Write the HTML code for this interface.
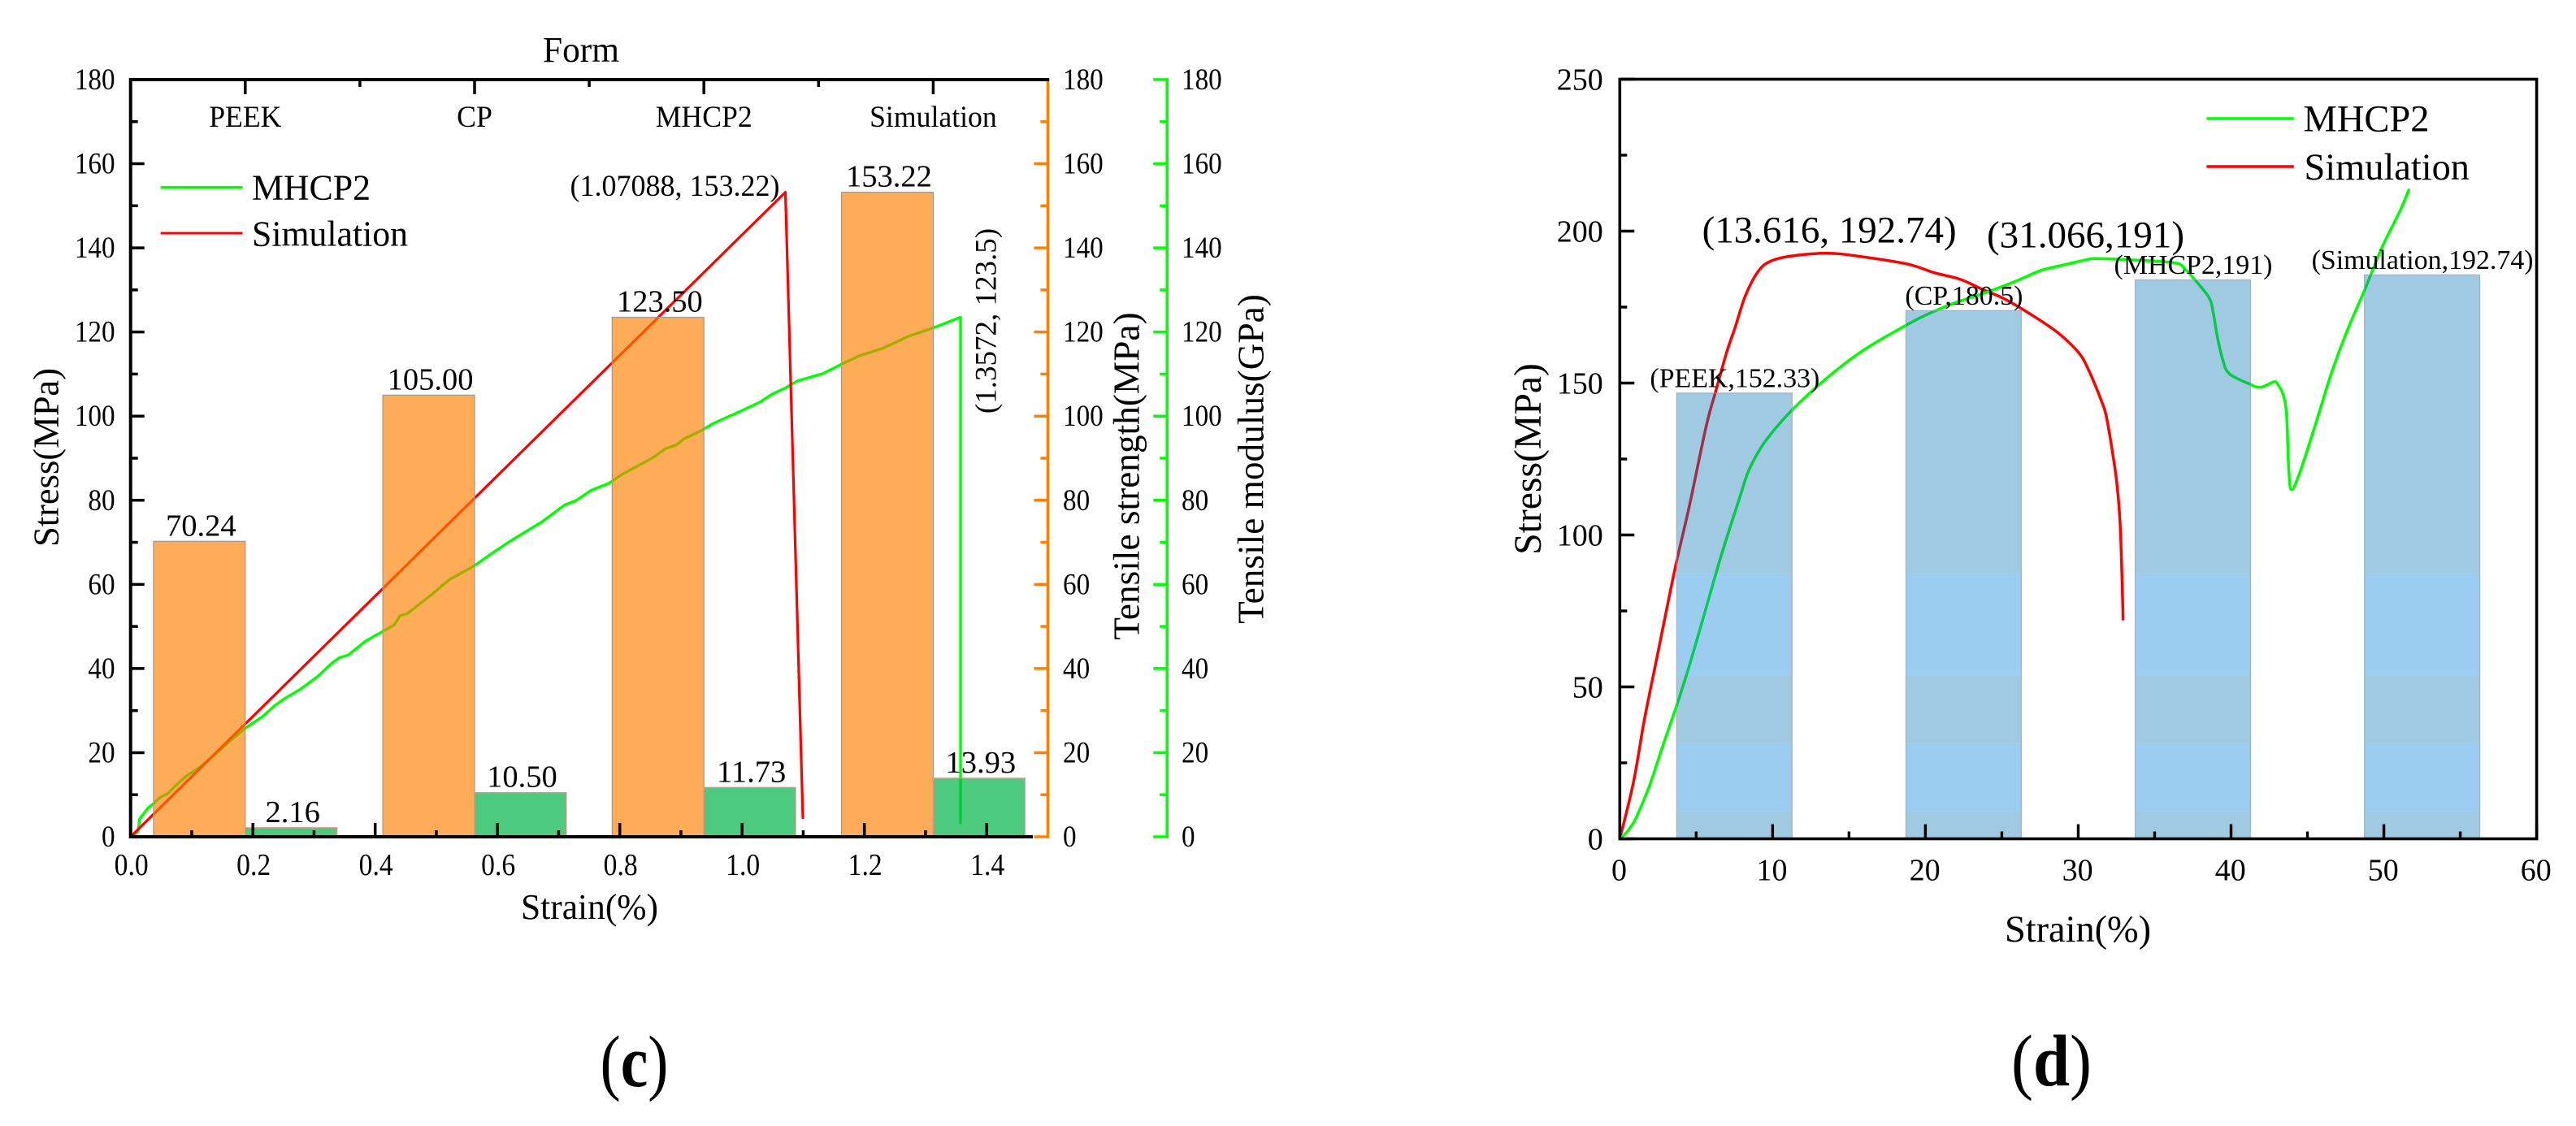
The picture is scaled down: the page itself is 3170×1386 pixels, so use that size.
<!DOCTYPE html>
<html lang="en">
<head>
<meta charset="utf-8">
<title>Stress-strain charts (c) and (d)</title>
<style>
  html, body { margin: 0; padding: 0; background: #fff; width: 3170px; height: 1386px; overflow: hidden; }
  svg { display: block; }
  text { font-family: "Liberation Serif", serif; fill: #000; }
</style>
</head>
<body>
<svg id="figure" width="3170" height="1386" viewBox="0 0 3170 1386">
  <rect x="0" y="0" width="3170" height="1386" fill="#fff"/>

  <g id="chart-c">
    <g id="c-lines"></g>
    <g id="c-bars"></g>
    <g id="c-axes"></g>
    <g id="c-labels"></g>
    <text x="668" y="76" font-size="44" textLength="94" lengthAdjust="spacingAndGlyphs">Form</text>
    <text x="641" y="1131" font-size="44" textLength="169" lengthAdjust="spacingAndGlyphs">Strain(%)</text>
    <text transform="translate(71.5 563) rotate(-90)" text-anchor="middle" font-size="44.5">Stress(MPa)</text>
    <text transform="translate(1401.5 586) rotate(-90)" text-anchor="middle" font-size="45.3">Tensile strength(MPa)</text>
    <text transform="translate(1554.5 565) rotate(-90)" text-anchor="middle" font-size="45.3">Tensile modulus(GPa)</text>
    <text x="701.5" y="241" font-size="37" textLength="258" lengthAdjust="spacingAndGlyphs">(1.07088, 153.22)</text>
    <text transform="translate(1225.5 395) rotate(-90)" text-anchor="middle" font-size="37">(1.3572, 123.5)</text>
    <g>
      <line x1="197.7" x2="298.5" y1="230.8" y2="230.8" stroke="#00ff00" stroke-width="3.5"/>
      <line x1="197.7" x2="298.5" y1="287" y2="287" stroke="#ff0000" stroke-width="3"/>
      <text x="310" y="245.5" font-size="44" textLength="146" lengthAdjust="spacingAndGlyphs">MHCP2</text>
      <text x="310" y="302.7" font-size="44" textLength="192" lengthAdjust="spacingAndGlyphs">Simulation</text>
    </g>
    <text x="738.5" y="1337" font-size="90" textLength="84" lengthAdjust="spacingAndGlyphs">(<tspan font-weight="bold">c</tspan>)</text>
  </g>

  <g id="chart-d">
    <g id="d-lines"></g>
    <g id="d-bars"></g>
    <g id="d-axes"></g>
    <g id="d-labels"></g>
    <text x="2467" y="1159" font-size="46.4" textLength="180" lengthAdjust="spacingAndGlyphs">Strain(%)</text>
    <text transform="translate(1896 565) rotate(-90)" text-anchor="middle" font-size="47.7">Stress(MPa)</text>
    <text x="2094.6" y="298.7" font-size="47" textLength="313" lengthAdjust="spacingAndGlyphs">(13.616, 192.74)</text>
    <text x="2445" y="304.5" font-size="47" textLength="243" lengthAdjust="spacingAndGlyphs">(31.066,191)</text>
    <g>
      <line x1="2715.4" x2="2822.8" y1="146" y2="146" stroke="#00ff00" stroke-width="3.5"/>
      <line x1="2715.4" x2="2822.8" y1="205" y2="205" stroke="#ff0000" stroke-width="3.5"/>
      <text x="2834.5" y="161.6" font-size="46.4" textLength="155" lengthAdjust="spacingAndGlyphs">MHCP2</text>
      <text x="2835.5" y="221" font-size="46.4" textLength="203.5" lengthAdjust="spacingAndGlyphs">Simulation</text>
    </g>
    <text x="2475" y="1336" font-size="90" textLength="99" lengthAdjust="spacingAndGlyphs">(<tspan font-weight="bold">d</tspan>)</text>
  </g>
</svg>

<script>
/* ---------- chart (c) data ---------- */
const cCategories = ['PEEK', 'CP', 'MHCP2', 'Simulation'];
const cStrengthValues = [70.24, 105.00, 123.50, 153.22];
const cModulusValues = [2.16, 10.50, 11.73, 13.93];
const cMhcpStrain = [0, .003, .0124, .0146, .028, .039, .048, .061, .079, .092, .112, .136, .163, .187, .216, .236, .251, .278, .305, .331, .342, .356, .384, .412, .431, .441, .452, .49, .522, .562, .592, .621, .647, .672, .71, .729, .753, .782, .803, .854, .875, .892, .905, .935, .952, .998, 1.03, 1.05, 1.071, 1.091, 1.132, 1.162, 1.193, 1.23, 1.271, 1.315, 1.3572, 1.3572];
const cMhcpStress = [0, .03, 1.3, 4.2, 6.76, 8.05, 9.33, 10.3, 12.9, 14.5, 16.4, 19.3, 22.85, 25.75, 28.6, 31.2, 32.8, 35.1, 38, 41.5, 42.6, 43.2, 46.5, 48.8, 50.3, 52.6, 53, 57.3, 61.2, 64.4, 67.5, 70.3, 72.6, 74.8, 78.9, 79.95, 82.35, 84, 86.1, 90.1, 92.3, 93.1, 94.6, 96.7, 98.2, 101.2, 103.4, 105.3, 106.7, 108.4, 110.1, 112.3, 114.4, 116.1, 118.9, 121.1, 123.5, 3.3];
const cSimStrain = [0, 1.07088, 1.0994];
const cSimStress = [0, 153.22, 4.5];
const cStrainTickLabels = ['0.0', '0.2', '0.4', '0.6', '0.8', '1.0', '1.2', '1.4'];
const cStrainMinorTicks = [.1, .3, .5, .7, .9, 1.1, 1.3];
const cStressTickLabels = ['0', '20', '40', '60', '80', '100', '120', '140', '160', '180'];
const cStressMinorTicks = [10, 30, 50, 70, 90, 110, 130, 150, 170];

/* ---------- chart (d) data ---------- */
const dCategories = ['PEEK', 'CP', 'MHCP2', 'Simulation'];
const dBarValues = [152.33, 180.5, 191, 192.74];
const dMhcpStrain = [0, .36, .75, 1.15, 1.95, 2.84, 3.69, 4.43, 5.32, 6.38, 7.09, 7.89, 8.42, 9.22, 9.93, 11.17, 12.76, 14.54, 16.31, 18.44, 19.87, 21.77, 23.91, 26, 27.59, 29.42, 30.64, 31.066, 32.84, 36.25, 36.99, 37.58, 38.55, 38.82, 39.09, 39.44, 39.88, 41.2, 41.92, 42.81, 43.07, 43.43, 43.64, 43.78, 43.97, 44.53, 45.56, 46.62, 47.68, 48.75, 49.46, 49.99, 51.05, 51.63];
const dMhcpStress = [0, 1.6, 4.2, 7.8, 17.6, 31, 43.4, 55, 70.2, 88.9, 100.5, 113, 121, 128.6, 133.5, 140.6, 148.2, 155.7, 162, 168.2, 172, 176.1, 179.7, 183.7, 187.1, 189.3, 190.7, 191, 190.7, 189.6, 187.5, 184.3, 178.2, 173.6, 165.6, 158, 153.1, 149.7, 148.6, 150.4, 149.5, 145.9, 138.8, 121, 114.9, 121, 137, 154, 168.2, 180.7, 189.6, 195.9, 206.6, 213.5];
const dSimStrain = [0, .89, 1.6, 2.39, 3.1, 3.69, 4.35, 4.7, 5.67, 6.3, 7, 7.54, 8.16, 8.69, 9.22, 9.66, 10.46, 11.7, 13.616, 15.4, 18.8, 20.58, 22.25, 23.67, 25.33, 27.46, 28.81, 30.03, 30.64, 31.49, 31.86, 32.3, 32.47, 32.64, 32.76, 32.84, 32.92, 32.93];
const dSimStress = [0, 18.5, 39, 58.6, 76.4, 90.7, 105, 113, 136.1, 147.7, 160.2, 168.2, 178, 183.8, 187.8, 189.6, 191.1, 192.1, 192.74, 191.9, 189.2, 186.3, 184.2, 181, 177.3, 170.8, 166, 160, 154.7, 144.5, 138.5, 125.4, 119.4, 111.1, 101.5, 89.6, 75.5, 72.3];
const dStrainTickLabels = ['0', '10', '20', '30', '40', '50', '60'];
const dStrainMinorTicks = [5, 15, 25, 35, 45, 55];
const dStressTickLabels = ['0', '50', '100', '150', '200', '250'];
const dStressMinorTicks = [25, 75, 125, 175, 225];
const dBandEdges = [0, 9, 31.6, 53.8, 87.5, 400];
const dBandColors = ['#1178b6', '#0882d9', '#1178b6', '#0882d9', '#1178b6'];

/* ---------- axis functions ---------- */
const cX = v => 160.7 + 752.5 * v;
const cY = v => 1030 - 5.178 * v;
const cCat = i => 160.7 + (i + 0.5) * 282.2;
const dX = v => 1993.3 + 18.805 * v;
const dY = v => 1032.5 - 3.74 * v;
const dBarY = v => 1032.5 - 3.602 * v;
const dCat = i => dX(7.5 + 15 * i);

const SVG_NS = 'http://www.w3.org/2000/svg';
function mk(tag, attrs, parent) {
  const el = document.createElementNS(SVG_NS, tag);
  for (const k in attrs) el.setAttribute(k, attrs[k]);
  parent.appendChild(el);
  return el;
}
function tx(str, x, y, size, anchor, sx, parent) {
  const el = mk('text', { transform: 'translate(' + x + ' ' + y + ') scale(' + sx + ' 1)', 'font-size': size, 'text-anchor': anchor }, parent);
  el.textContent = str;
  return el;
}
function seg(x1, y1, x2, y2, color, width, parent) {
  return mk('line', { x1: x1, y1: y1, x2: x2, y2: y2, stroke: color, 'stroke-width': width }, parent);
}
function curve(xs, ys, fx, fy, color, width, parent) {
  const pts = xs.map((v, i) => fx(v).toFixed(1) + ',' + fy(ys[i]).toFixed(1)).join(' ');
  return mk('polyline', { points: pts, fill: 'none', stroke: color, 'stroke-width': width, 'stroke-linejoin': 'round', 'stroke-linecap': 'round' }, parent);
}
function smoothCurve(xs, ys, fx, fy, color, width, parent) {
  const p = xs.map((v, i) => [fx(v), fy(ys[i])]);
  let d = 'M' + p[0][0].toFixed(1) + ' ' + p[0][1].toFixed(1);
  for (let i = 0; i < p.length - 1; i++) {
    const a = p[Math.max(i - 1, 0)], b = p[i], c = p[i + 1], e = p[Math.min(i + 2, p.length - 1)];
    const c1x = b[0] + (c[0] - a[0]) / 6, c1y = b[1] + (c[1] - a[1]) / 6;
    const c2x = c[0] - (e[0] - b[0]) / 6, c2y = c[1] - (e[1] - b[1]) / 6;
    d += 'C' + c1x.toFixed(1) + ' ' + c1y.toFixed(1) + ' ' + c2x.toFixed(1) + ' ' + c2y.toFixed(1) + ' ' + c[0].toFixed(1) + ' ' + c[1].toFixed(1);
  }
  return mk('path', { d: d, fill: 'none', stroke: color, 'stroke-width': width, 'stroke-linejoin': 'round', 'stroke-linecap': 'round' }, parent);
}

/* ---------- draw chart (c) ---------- */
const cLines = document.getElementById('c-lines');
const cBars = document.getElementById('c-bars');
const cAxes = document.getElementById('c-axes');
const cLabels = document.getElementById('c-labels');

const cMhcpLine = curve(cMhcpStrain, cMhcpStress, cX, cY, '#00ff00', 3.4, cLines);


const cSimLine = curve(cSimStrain, cSimStress, cX, cY, '#ff0000', 3.2, cLines);



const cBarW = 0.4 * 282.2;
cCategories.forEach((name, i) => {
  const key = name.toLowerCase();
  const sTop = cY(cStrengthValues[i]);
  const sBar = mk('rect', { x: cCat(i) - cBarW, y: sTop, width: cBarW, height: cY(0) - sTop, fill: '#ff8000', 'fill-opacity': .65, stroke: '#9a9a9a', 'stroke-width': 1.2 }, cBars);
  
  
  const mTop = cY(cModulusValues[i]);
  const mBar = mk('rect', { x: cCat(i), y: mTop, width: cBarW, height: cY(0) - mTop, fill: '#00b549', 'fill-opacity': .7, stroke: '#f08a80', 'stroke-width': 1.2 }, cBars);
  
  
  const sVal = tx(cStrengthValues[i].toFixed(2), cCat(i) - cBarW / 2 + 2, sTop - 7, 38.5, 'middle', 1, cLabels);
  
  
  const mVal = tx(cModulusValues[i].toFixed(2), cCat(i) + cBarW / 2 + 2, mTop - 7, 38.5, 'middle', 1, cLabels);
  
  
  const catLabel = tx(name, cCat(i), 156, 37, 'middle', .965, cLabels);
  
  
  const catTick = seg(cCat(i), 98, cCat(i), 116, '#000', 3.5, cAxes);
  
  
  if (i < cCategories.length - 1) {
    const catMinor = seg(cCat(i + 0.5), 98, cCat(i + 0.5), 107, '#000', 3.5, cAxes);
    
    
  }
});

/* secondary axes */
const cOrangeAxis = seg(cX(1.5), cY(180), cX(1.5), cY(0) + 1.8, '#ff8000', 3.5, cAxes);


const cGreenAxisX = 1436.2;
const cGreenAxis = seg(cGreenAxisX, cY(180) - 1.8, cGreenAxisX, cY(0) + 1.8, '#00ff00', 3.5, cAxes);



cStressTickLabels.forEach(lbl => {
  const v = Number(lbl);
  const y = cY(v);
  const leftTick = seg(cX(0), y, cX(0) + 17, y, '#000', 3.5, cAxes);
  
  
  const leftLabel = tx(lbl, 141.6, y + 12, 37.5, 'end', .885, cLabels);
  
  
  const orangeTick = seg(cX(1.5) - 17, y, cX(1.5), y, '#ff8000', 3.5, cAxes);
  
  
  const orangeLabel = tx(lbl, 1308, y + 12, 37.5, 'start', .885, cLabels);
  
  
  const greenTick = seg(cGreenAxisX - 17, y, cGreenAxisX, y, '#00ff00', 3.5, cAxes);
  
  
  const greenLabel = tx(lbl, 1454, y + 12, 37.5, 'start', .885, cLabels);
  
  
});
cStressMinorTicks.forEach(v => {
  const y = cY(v);
  const leftMinor = seg(cX(0), y, cX(0) + 9, y, '#000', 3.5, cAxes);
  
  
  const orangeMinor = seg(cX(1.5) - 9, y, cX(1.5), y, '#ff8000', 3.5, cAxes);
  
  
  const greenMinor = seg(cGreenAxisX - 9, y, cGreenAxisX, y, '#00ff00', 3.5, cAxes);
  
  
});
cStrainTickLabels.forEach(lbl => {
  const v = Number(lbl);
  const tick = seg(cX(v), cY(0), cX(v), cY(0) - 17, '#000', 3.5, cAxes);
  
  
  const t = tx(lbl, cX(v) + 1, 1077, 38, 'middle', .885, cLabels);
  
  
});
cStrainMinorTicks.forEach(v => {
  const tick = seg(cX(v), cY(0), cX(v), cY(0) - 8, '#000', 3.5, cAxes);
  
  
});
const cLeftAxis = seg(cX(0), cY(180) - 2, cX(0), cY(0) + 2, '#000', 4, cAxes);


const cBottomAxis = seg(cX(0), cY(0), 1271, cY(0), '#000', 4, cAxes);


const cTopAxis = seg(cX(0), cY(180), cX(1.5) + 1.8, cY(180), '#000', 4, cAxes);



/* ---------- draw chart (d) ---------- */
const dLines = document.getElementById('d-lines');
const dBars = document.getElementById('d-bars');
const dAxes = document.getElementById('d-axes');
const dLabels = document.getElementById('d-labels');

const dSimLine = smoothCurve(dSimStrain, dSimStress, dX, dY, '#ff0000', 3.5, dLines);


const dMhcpLine = smoothCurve(dMhcpStrain, dMhcpStress, dX, dY, '#00ff00', 3.5, dLines);



const dBarW = 7.55 * 18.805;
dCategories.forEach((name, i) => {
  const key = name.toLowerCase();
  const top = dBarY(dBarValues[i]);
  const left = dCat(i) - dBarW / 2;
  dBandColors.forEach((color, b) => {
    const y1 = Math.max(top, dY(dBandEdges[b + 1]));
    const y2 = dY(dBandEdges[b]);
    if (y2 > y1) {
      const band = mk('rect', { x: left, y: y1, width: dBarW, height: y2 - y1, fill: color, 'fill-opacity': .4 }, dBars);
      
      
    }
  });
  const outline = mk('rect', { x: left, y: top, width: dBarW, height: dY(0) - top, fill: 'none', stroke: '#8aa0b4', 'stroke-opacity': .7, 'stroke-width': 1.2 }, dBars);
  
  
  const note = tx('(' + name + ',' + dBarValues[i] + ')', dCat(i) + 0.5, top - 7.5, 33.9, 'middle', 1, dLabels);
  
  
});

dStressTickLabels.forEach(lbl => {
  const v = Number(lbl);
  const tick = seg(dX(0), dY(v), dX(0) + 18, dY(v), '#000', 3.4, dAxes);
  
  
  const t = tx(lbl, 1972.8, dY(v) + 12.8, 38, 'end', 1, dLabels);
  
  
});
dStressMinorTicks.forEach(v => {
  const tick = seg(dX(0), dY(v), dX(0) + 9, dY(v), '#000', 3.4, dAxes);
  
  
});
dStrainTickLabels.forEach(lbl => {
  const v = Number(lbl);
  const tick = seg(dX(v), dY(0), dX(v), dY(0) - 18, '#000', 3.4, dAxes);
  
  
  const t = tx(lbl, dX(v) - 0.8, 1083.6, 38, 'middle', 1, dLabels);
  
  
});
dStrainMinorTicks.forEach(v => {
  const tick = seg(dX(v), dY(0), dX(v), dY(0) - 9, '#000', 3.4, dAxes);
  
  
});
const dFrame = mk('rect', { x: dX(0), y: dY(250), width: dX(60) - dX(0), height: dY(0) - dY(250), fill: 'none', stroke: '#000', 'stroke-width': 3.6 }, dAxes);


</script>
</body>
</html>
